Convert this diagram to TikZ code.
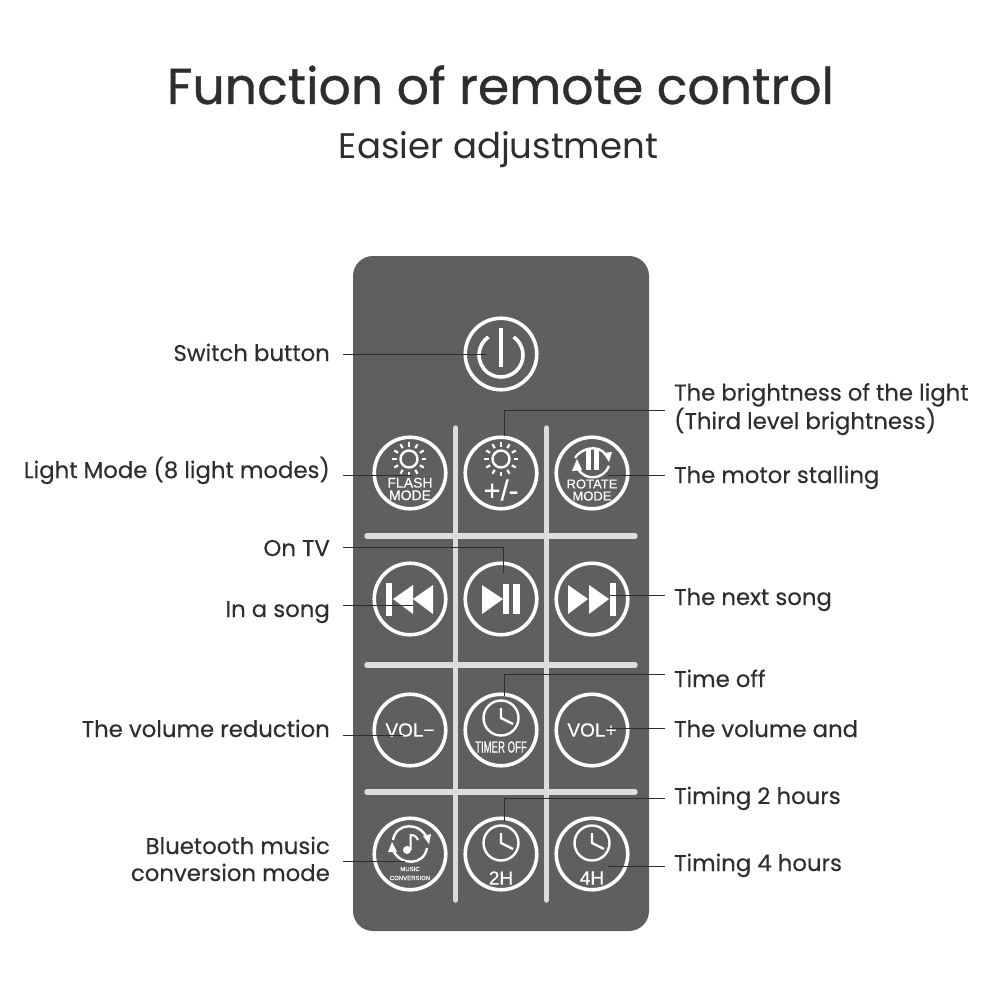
\documentclass[tikz,border=0pt]{standalone}
\usepackage{fontspec}
\usepackage{graphicx}
\setmainfont[FakeBold=0.25]{Poppins}
\newfontfamily\titlefont[FakeBold=0.7]{Poppins}
\newfontfamily\subfont{Poppins}
\newfontfamily\btnfont[FakeBold=0.3]{Liberation Sans}
\definecolor{bodygray}{HTML}{5F5F5F}
\definecolor{barcol}{HTML}{DCDCDC}
\definecolor{inkcol}{HTML}{2E2E2E}
\newcommand{\fs}[1]{\fontsize{#1}{#1}\selectfont}
\newcommand{\lfs}{\fontsize{22.8}{27}\selectfont}
\tikzset{
  x=1pt,y=-1pt,
  bar/.style={line width=5.5pt,barcol,line cap=round},
  btn/.style={circle,draw=white,line width=3.6pt,minimum size=71.5pt,inner sep=0pt,outer sep=0pt},
  ico/.style={draw=white,line width=2.4pt},
  btxt/.style={text=white,inner sep=0pt,font=\btnfont},
  leader/.style={draw=inkcol,line width=1pt},
  lleft/.style={anchor=base east,inner ysep=0pt,inner xsep=13pt,text=inkcol,align=right,font=\lfs},
  lright/.style={anchor=base west,inner ysep=0pt,inner xsep=9pt,text=inkcol,align=left,font=\lfs},
  sunicon/.pic={
    \draw[ico] (0,0) circle (8.5);
    \foreach \a in {0,30,...,330}{\draw[white,line width=2.2pt] (\a:12.5) -- (\a:17);}
  },
  clockicon/.pic={
    \draw[ico] (0,0) circle (17.5);
    \draw[white,line width=2.4pt] (0,-10) -- (0,0) -- (12,6);
  },
}
\begin{document}
\begin{tikzpicture}
\useasboundingbox (0,0) rectangle (1000,1000);
\fill[white] (0,0) rectangle (1000,1000);
% title
\node[anchor=base,inner sep=0pt,text=inkcol,font=\titlefont\fs{50.5}] (title) at (500.5,104) {Function of remote control};
\node[anchor=base,inner sep=0pt,text=inkcol,font=\subfont\fs{35.5}] (sub) at (498.5,159) {Easier adjustment};
% remote
\fill[bodygray,rounded corners=20pt] (353,256) rectangle (649,931);
\draw[bar] (367,536) -- (635,536);
\draw[bar] (367,665) -- (635,665);
\draw[bar] (367,792) -- (635,792);
\draw[bar] (455.5,428) -- (455.5,900);
\draw[bar] (546.5,428) -- (546.5,900);
% buttons
\node[btn] (bsw) at (501,354) {};
\node[btn] (bfl) at (410,473) {};
\node[btn] (bbr) at (501,473) {};
\node[btn] (bro) at (592,473) {};
\node[btn] (bpr) at (410,599) {};
\node[btn] (bpl) at (501,599) {};
\node[btn] (bnx) at (592,599) {};
\node[btn] (bvm) at (410,730) {};
\node[btn] (bto) at (501,730) {};
\node[btn] (bvp) at (592,730) {};
\node[btn] (bmu) at (410,854) {};
\node[btn] (b2h) at (501,854) {};
\node[btn] (b4h) at (592,854) {};
% power
\draw[white,line width=3.6pt] (501,355) ++(-55:22) arc[start angle=-55,end angle=235,radius=22];
\draw[white,line width=4pt] (501,328) -- (501,367);
% flash
\pic at (409,459) {sunicon};
\node[btxt,font=\btnfont\fontsize{14}{12.5}\selectfont,align=center] (tfl) at (410,489) {FLASH\\MODE};
% brightness
\pic at (501,459) {sunicon};
\node[btxt,font=\btnfont\fs{29}] (tbr) at (501,490) {+/-};
% rotate
\fill[white] (586,448) rectangle (591,470);
\fill[white] (594,448) rectangle (599,470);
\draw[ico] (575,458) .. controls (580,449) and (598,443) .. (606,455);
\draw[ico] (609,466) .. controls (604,479) and (586,482) .. (578,469);
\fill[white] (603,453) -- (612,452) -- (609,462) -- cycle;
\fill[white] (577,459) -- (572,471) -- (582,470) -- cycle;
\node[btxt,font=\btnfont\fontsize{13}{12}\selectfont,align=center] (tro) at (592,490) {ROTATE\\MODE};
% prev
\fill[white] (386,583) rectangle (392,616);
\fill[white] (393,599) -- (413,585) -- (413,614) -- cycle;
\fill[white] (413,599) -- (433,585) -- (433,614) -- cycle;
% play/pause
\fill[white] (482,585) -- (503,599) -- (482,614) -- cycle;
\fill[white] (503,584) rectangle (509,614);
\fill[white] (513,584) rectangle (520,614);
% next
\fill[white] (568,585) -- (588,599) -- (568,614) -- cycle;
\fill[white] (589,585) -- (609,599) -- (589,614) -- cycle;
\fill[white] (610,583) rectangle (616,616);
% vol
\node[btxt,font=\btnfont\fs{19}] (tvm) at (410,730) {VOL−};
\node[btxt,font=\btnfont\fs{19}] (tvp) at (592,730) {VOL+};
% timer off
\pic at (501,718) {clockicon};
\node[btxt,font=\btnfont\fs{16}] (tto) at (501,747) {\scalebox{0.6}[1]{TIMER OFF}};
% music
\draw[ico] (393,840) .. controls (396,822) and (420,822) .. (427,838);
\draw[ico] (427,848) .. controls (424,866) and (400,866) .. (393,850);
\fill[white] (423,836) -- (431,834) -- (429,844) -- cycle;
\fill[white] (392,842) -- (388,852) -- (397,852) -- cycle;
\fill[white] (407,850) circle (4);
\draw[white,line width=2pt] (410.5,850) -- (410.5,835) .. controls (414,835) and (416,836) .. (418,840);
\node[btxt,font=\btnfont\fontsize{6}{9}\selectfont,align=center] (tmu) at (410,873.5) {MUSIC\\CONVERSION};
% 2h / 4h
\pic at (501,843) {clockicon};
\node[btxt,font=\btnfont\fs{19}] (t2h) at (501,878) {2H};
\pic at (592,843) {clockicon};
\node[btxt,font=\btnfont\fs{19}] (t4h) at (592,878) {4H};
% labels
\node[lleft] (lsw) at (343,361) {Switch button};
\node[lleft] (lfl) at (343,478) {Light Mode (8 light modes)};
\node[lleft] (ltv) at (343,556) {On TV};
\node[lleft] (lso) at (343,617) {In a song};
\node[lleft] (lvm) at (343,737) {The volume reduction};
\node[lleft] (lmu) at (343,881) {Bluetooth music\\conversion mode};
\node[lright] (lbr) at (665,429) {The brightness of the light\\(Third level brightness)};
\node[lright] (lmo) at (665,483) {The motor stalling};
\node[lright] (lnx) at (665,605) {The next song};
\node[lright] (lto) at (665,687) {Time off};
\node[lright] (lvp) at (665,737) {The volume and};
\node[lright] (l2h) at (665,804) {Timing 2 hours};
\node[lright] (l4h) at (665,871) {Timing 4 hours};
% connector ends
\coordinate (esw) at (487,354);
\coordinate (efl) at (412,475);
\coordinate (ebr) at (504,436);
\coordinate (emo) at (608,475);
\coordinate (etv) at (503,573);
\coordinate (eso) at (413,605);
\coordinate (enx) at (610,595);
\coordinate (eto) at (504,696);
\coordinate (evm) at (403,735);
\coordinate (evp) at (608,728);
\coordinate (e2h) at (504,821);
\coordinate (e4h) at (608,866);
\coordinate (emu) at (405,861);
% connectors
\draw[leader] (lsw.east |- esw) -- (esw);
\draw[leader] (lfl.east |- efl) -- (efl);
\draw[leader] (lbr.west |- 0,410) -| (ebr);
\draw[leader] (lmo.west |- emo) -- (emo);
\draw[leader] (ltv.east |- 0,547) -| (etv);
\draw[leader] (lso.east |- eso) -- (eso);
\draw[leader] (lnx.west |- enx) -- (enx);
\draw[leader] (lto.west |- 0,674) -| (eto);
\draw[leader] (lvm.east |- evm) -- (evm);
\draw[leader] (lvp.west |- evp) -- (evp);
\draw[leader] (l2h.west |- 0,798) -| (e2h);
\draw[leader] (l4h.west |- e4h) -- (e4h);
\draw[leader] (lmu.east |- emu) -- (emu);
\end{tikzpicture}
\end{document}
